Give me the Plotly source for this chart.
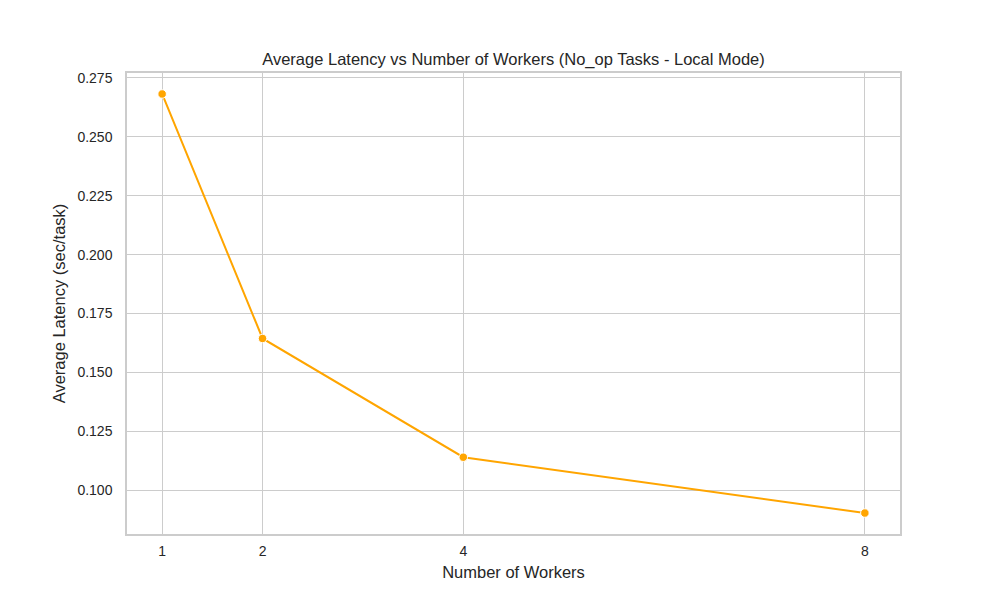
import plotly.graph_objects as go

workers = [1, 2, 4, 8]
latency = [0.2682, 0.1644, 0.1140, 0.0903]
y_ticks = [0.100, 0.125, 0.150, 0.175, 0.200, 0.225, 0.250, 0.275]

fig = go.Figure()
fig.add_trace(
    go.Scatter(
        x=workers,
        y=latency,
        mode="lines+markers",
        line=dict(color="orange", width=2),
        marker=dict(color="orange", size=8.5, line=dict(color="white", width=1)),
        showlegend=False,
    )
)

axis_style = dict(
    showgrid=True,
    gridcolor="#cccccc",
    gridwidth=1.2,
    showline=True,
    linecolor="#cccccc",
    linewidth=1.5,
    mirror=True,
    zeroline=False,
    ticks="",
    tickfont=dict(size=14, color="#262626"),
)

# the page body has an 8px margin, so margins are offset to keep the plot box in place
fig.update_layout(
    width=1000,
    height=600,
    paper_bgcolor="white",
    plot_bgcolor="white",
    font=dict(family="Liberation Sans, Arial, sans-serif", color="#262626"),
    title=dict(
        text="Average Latency vs Number of Workers (No_op Tasks - Local Mode)",
        x=0.5, xref="paper", xanchor="center",
        y=1, yref="paper", yanchor="bottom",
        pad=dict(b=8),
        font=dict(size=16.5, color="#262626"),
    ),
    margin=dict(l=119, r=108, t=65, b=74),
    xaxis=dict(
        axis_style,
        range=[0.65, 8.35],
        tickvals=workers,
        ticktext=[str(w) for w in workers],
        ticklabelstandoff=3,
        title=dict(text="Number of Workers", font=dict(size=16.5), standoff=9),
    ),
    yaxis=dict(
        axis_style,
        range=[0.0814, 0.2771],
        tickvals=y_ticks,
        ticktext=[f"{v:.3f}" for v in y_ticks],
        ticklabelstandoff=10,
        title=dict(text="Average Latency (sec/task)", font=dict(size=16.5), standoff=8),
    ),
)

fig.write_html("out.html")
